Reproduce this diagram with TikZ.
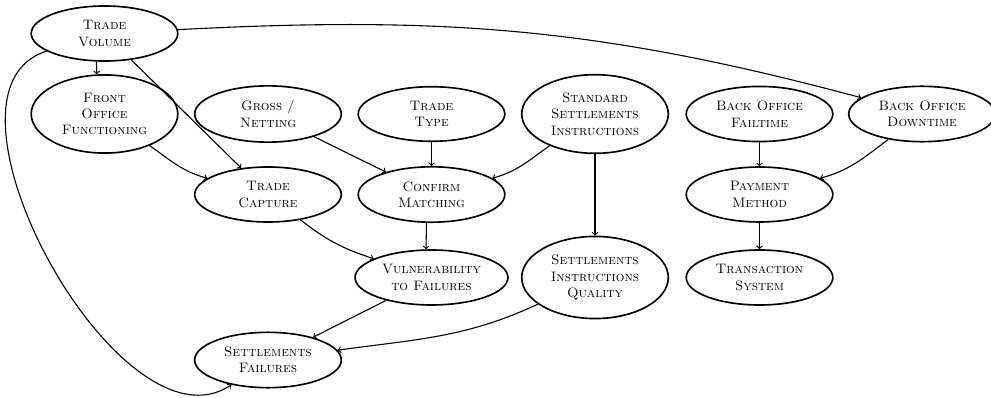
\documentclass[tikz,border=0pt]{standalone}
\usetikzlibrary{shapes.geometric}

\tikzset{
  factor/.style={ellipse, draw, very thick, minimum width=107pt,
    inner ysep=4.7pt, align=center, font=\scshape},
  link/.style={->, thick},
}

\begin{document}
\begin{tikzpicture}[x=0.73pt, y=-0.73pt]

    % --- Canvas (picture pixels, y downwards) ---
    \useasboundingbox (0,0) rectangle (991,398);

    % --- Columns and rows ---
    \def\cA{104.5}
    \def\cB{268}
    \def\cC{431.5}
    \def\cD{595}
    \def\cE{759.5}
    \def\cF{922}
    \def\rA{33.5}
    \def\rB{114}
    \def\rC{194.5}
    \def\rD{277.5}
    \def\rE{360}

    % --- Top row ---
    \node[factor] (TV) at (\cA,\rA) {Trade\\Volume};

    % --- Second row ---
    \node[factor] (FOF) at (\cA,\rB) {Front\\Office\\Functioning};
    \node[factor] (GN)  at (\cB,\rB) {Gross /\\Netting};
    \node[factor] (TT)  at (\cC,\rB) {Trade\\Type};
    \node[factor] (SSI) at (\cD,\rB) {Standard\\Settlements\\Instructions};
    \node[factor] (BOF) at (\cE,\rB) {Back Office\\Failtime};
    \node[factor] (BOD) at (\cF,\rB) {Back Office\\Downtime};

    % --- Third row ---
    \node[factor] (TC) at (\cB,\rC) {Trade\\Capture};
    \node[factor] (CM) at (\cC,\rC) {Confirm\\Matching};
    \node[factor] (PM) at (\cE,\rC) {Payment\\Method};

    % --- Fourth row ---
    \node[factor] (VF)  at (\cC,\rD) {Vulnerability\\to Failures};
    \node[factor] (SIQ) at (\cD,\rD) {Settlements\\Instructions\\Quality};
    \node[factor] (TS)  at (\cE,\rD) {Transaction\\System};

    % --- Bottom row ---
    \node[factor] (SF) at (\cB,\rE) {Settlements\\Failures};

    % --- Links out of Trade Volume ---
    \draw[link] (TV.254) -- (FOF.101);
    \draw[link] (TV) -- (TC);
    \draw[link] (TV) to[out=3, in=165] (BOD);
    \draw[link] (TV) to[out=197, in=214, looseness=0.9] (SF);

    % --- Links into Trade Capture and Confirm Matching ---
    \draw[link] (FOF) to[out=-35, in=165] (TC);
    \draw[link] (GN) -- (CM);
    \draw[link] (TT) -- (CM);
    \draw[link] (SSI) to[out=215, in=15] (CM);
    \draw[link] (SSI) -- (SIQ);

    % --- Back office chain ---
    \draw[link] (BOF) -- (PM);
    \draw[link] (BOD) to[out=217, in=15] (PM);
    \draw[link] (PM) -- (TS);

    % --- Towards the failures ---
    \draw[link] (TC) to[out=-38, in=162] (VF);
    \draw[link] (CM.260) -- (VF.101);
    \draw[link] (VF) -- (SF);
    \draw[link] (SIQ) to[out=205, in=8] (SF);

\end{tikzpicture}
\end{document}
